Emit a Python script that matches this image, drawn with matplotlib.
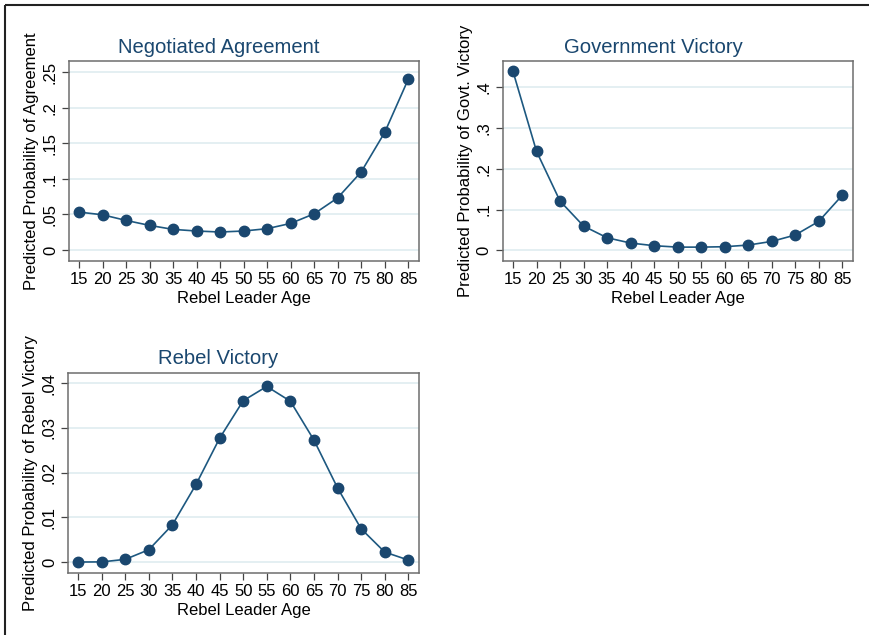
import matplotlib
matplotlib.use('Agg')
import matplotlib.pyplot as plt
from matplotlib.lines import Line2D

plt.rcParams['font.family'] = ['Liberation Sans', 'DejaVu Sans']

ages = [15, 20, 25, 30, 35, 40, 45, 50, 55, 60, 65, 70, 75, 80, 85]

agreement = [0.0532, 0.0494, 0.0415, 0.0345, 0.0289, 0.0266, 0.0252, 0.0266,
             0.0299, 0.0373, 0.0508, 0.0732, 0.1096, 0.1651, 0.2397]
govt_victory = [0.439, 0.243, 0.121, 0.0597, 0.031, 0.018, 0.0115, 0.008,
                0.008, 0.009, 0.013, 0.022, 0.0376, 0.071, 0.135]
rebel_victory = [0.0, 0.00003, 0.0006, 0.00276, 0.00834, 0.01736, 0.0277, 0.0361,
                 0.0393, 0.036, 0.0273, 0.0166, 0.00745, 0.00223, 0.00045]

agree_ticks = [0, 0.05, 0.1, 0.15, 0.2, 0.25]
agree_labels = ['0', '.05', '.1', '.15', '.2', '.25']
govt_ticks = [0, 0.1, 0.2, 0.3, 0.4]
govt_labels = ['0', '.1', '.2', '.3', '.4']
rebel_ticks = [0, 0.01, 0.02, 0.03, 0.04]
rebel_labels = ['0', '.01', '.02', '.03', '.04']

navy = '#1a476f'
line_col = '#1d5880'

fig = plt.figure(figsize=(8.69, 6.35), dpi=100)
fig.patch.set_facecolor('white')

panels = [
    ([0.0794, 0.5890, 0.4028, 0.315], agreement, 'Negotiated Agreement',
     'Predicted Probability of Agreement', agree_ticks, agree_labels, (-0.0155, 0.2655)),
    ([0.5788, 0.5890, 0.4028, 0.315], govt_victory, 'Government Victory',
     'Predicted Probability of Govt. Victory', govt_ticks, govt_labels, (-0.026, 0.4646)),
    ([0.0783, 0.0976, 0.4040, 0.3155], rebel_victory, 'Rebel Victory',
     'Predicted Probability of Rebel Victory', rebel_ticks, rebel_labels, (-0.00246, 0.04238)),
]

for rect, values, title, ylabel, yt, ytl, ylim in panels:
    ax = fig.add_axes(rect)
    for y in yt:
        ax.axhline(y, color='#e4eff2', linewidth=1.4, zorder=0)
    ax.plot(ages, values, color=line_col, linewidth=1.2, marker='o',
            markersize=7.5, markerfacecolor=navy, markeredgecolor=navy, zorder=3)
    ax.set_xlim(12.87, 87.3)
    ax.set_ylim(*ylim)
    ax.set_xticks(ages)
    ax.set_xticklabels([str(a) for a in ages])
    ax.set_yticks(yt)
    ax.set_yticklabels(ytl, rotation=90, va='center')
    ax.tick_params(axis='both', labelsize=12, length=5, width=0.9,
                   color='#444444', pad=3)
    for s in ax.spines.values():
        s.set_color('#6e6e6e')
        s.set_linewidth(1.1)
    ax.set_title(title, fontsize=14.6, color=navy, x=0.4286, pad=6)
    ax.set_xlabel('Rebel Leader Age', fontsize=12, labelpad=2.5)
    ax.set_ylabel(ylabel, fontsize=12, labelpad=3)

# outer frame (top and left edges)
fig.add_artist(Line2D([0.0058, 1.0], [0.992, 0.992], transform=fig.transFigure,
                      color='#222222', linewidth=1.5, solid_capstyle='butt'))
fig.add_artist(Line2D([0.0058, 0.0058], [0.0, 0.992], transform=fig.transFigure,
                      color='#222222', linewidth=1.5, solid_capstyle='butt'))

fig.savefig('out.png', dpi=100)
